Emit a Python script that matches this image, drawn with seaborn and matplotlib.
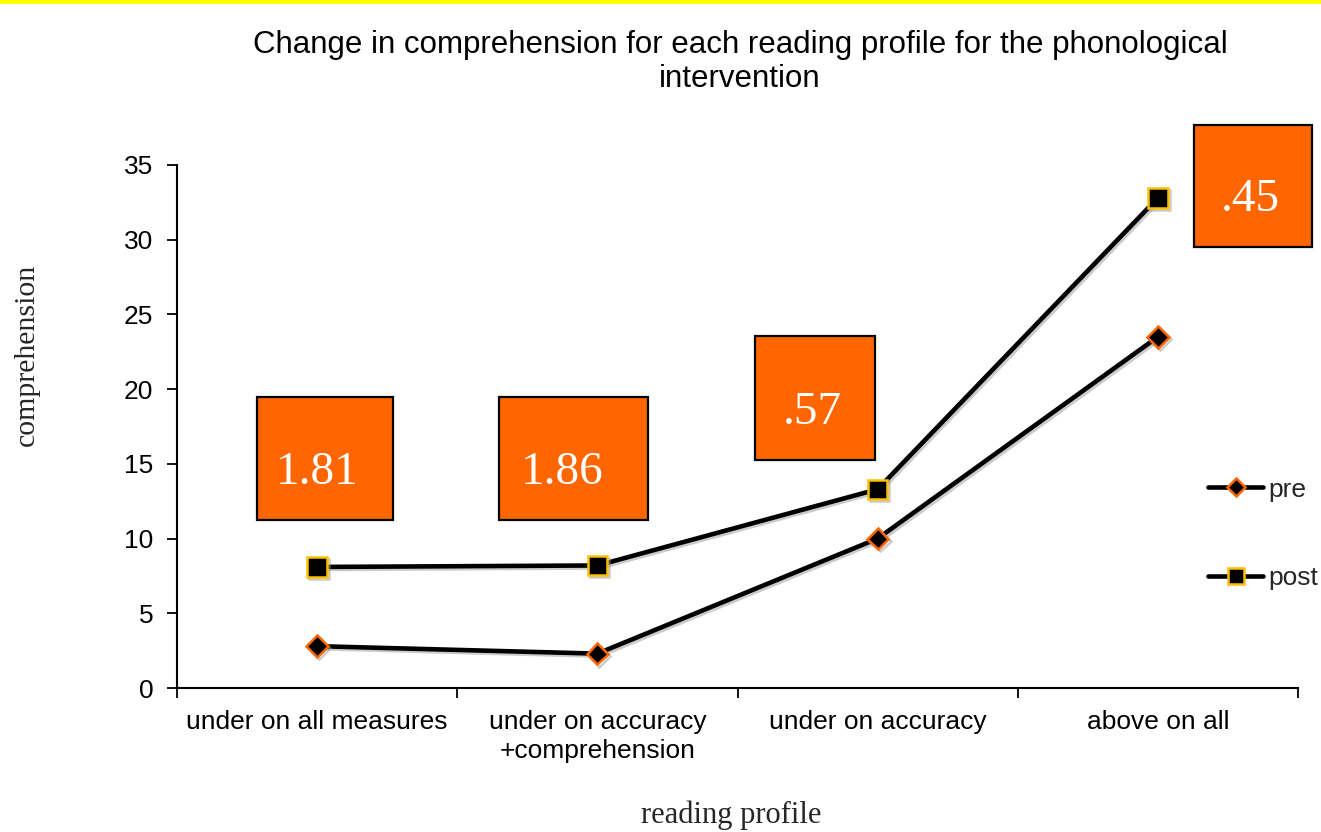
import matplotlib
matplotlib.use("Agg")
import matplotlib.pyplot as plt
import matplotlib.patheffects as pe
from matplotlib.patches import Rectangle
from matplotlib.lines import Line2D
import numpy as np
import pandas as pd
import seaborn as sns

# Reading profiles and mean comprehension scores
profiles = ["under on all measures", "under on accuracy\n+comprehension",
            "under on accuracy", "above on all"]
pre_scores = [2.8, 2.3, 10.0, 23.5]
post_scores = [8.1, 8.2, 13.3, 32.8]
# Effect sizes shown in the callout boxes
effect_labels = ["1.81", "1.86", ".57", ".45"]
y_ticks = [0, 5, 10, 15, 20, 25, 30, 35]

sns.set_theme(style="ticks")
plt.rcParams["font.family"] = ["Liberation Sans", "DejaVu Sans"]

df = pd.DataFrame({
    "profile": profiles * 2,
    "x": list(range(len(profiles))) * 2,
    "score": pre_scores + post_scores,
    "phase": ["pre"] * len(profiles) + ["post"] * len(profiles),
})

fig = plt.figure(figsize=(13.21, 8.32), dpi=100)
ax = fig.add_axes([177 / 1321, 1 - 688 / 832, (1298 - 177) / 1321, (688 - 165) / 832])

shadow = [pe.SimpleLineShadow(offset=(1.5, -1.5), shadow_color="0.6", alpha=0.5), pe.Normal()]

sns.lineplot(data=df, x="x", y="score", hue="phase", style="phase",
             palette={"pre": "black", "post": "black"},
             markers={"pre": "D", "post": "s"}, dashes=False,
             linewidth=3.3, ax=ax, legend=False, zorder=3)

edge = {"pre": "#FF6600", "post": "#FFC000"}
msize = {"pre": 11, "post": 14}
lines = ax.get_lines()
for ln, phase in zip(lines, ["pre", "post"]):
    ln.set_markerfacecolor("black")
    ln.set_markeredgecolor(edge[phase])
    ln.set_markeredgewidth(1.8)
    ln.set_markersize(msize[phase])
    ln.set_path_effects(shadow)

ax.set_xlim(-0.5, 3.5)
ax.set_ylim(0, 35)
ax.set_yticks(y_ticks)
ax.set_xticks(range(len(profiles)))
ax.set_xticklabels(profiles, fontsize=19, linespacing=1.25)
ax.set_xticks(np.arange(-0.5, 3.6, 1.0), minor=True)
ax.tick_params(axis="x", which="major", length=0, pad=16)
ax.tick_params(axis="x", which="minor", length=7, width=1.3, direction="out", color="black")
ax.tick_params(axis="y", length=7, width=1.3, direction="out", labelsize=19, pad=10, color="black")
ax.tick_params(colors="black")
for s in ["top", "right"]:
    ax.spines[s].set_visible(False)
for s in ["left", "bottom"]:
    ax.spines[s].set_linewidth(1.5)
    ax.spines[s].set_color("black")
ax.set_xlabel("")
ax.set_ylabel("")

# Axis titles
fig.text(27 / 1321, 1 - 355 / 832, "comprehension", rotation=90, ha="center", va="center",
         fontsize=21.5, family=["Liberation Serif", "DejaVu Serif"])
fig.text(731 / 1321, 1 - 815 / 832, "reading profile", ha="center", va="center",
         fontsize=22, family=["Liberation Serif", "DejaVu Serif"])

# Title
fig.text(740 / 1321, 1 - 62 / 832,
         "Change in comprehension for each reading profile for the phonological\nintervention",
         ha="center", va="center", fontsize=22.5, linespacing=1.17, color="black")

# Effect-size callouts (data coordinates)
boxes = [(-0.215, 11.24, 0.485, 8.24), (0.649, 11.24, 0.532, 8.24),
         (1.562, 15.26, 0.428, 8.30), (3.129, 29.52, 0.421, 8.16)]
text_pos = [(0.0, 14.4), (0.874, 14.4), (1.766, 18.4), (3.329, 32.7)]
for (bx, by, bw, bh), (tx, ty), lab in zip(boxes, text_pos, effect_labels):
    ax.add_patch(Rectangle((bx, by), bw, bh, facecolor="#FF6600", edgecolor="black",
                           linewidth=1.6, clip_on=False, zorder=4))
    ax.text(tx, ty, lab, ha="center", va="center", color="white", fontsize=34,
            family=["Liberation Serif", "DejaVu Serif"], zorder=5, clip_on=False)

# Legend
handles = [
    Line2D([0], [0], color="black", lw=3.3, marker="D", markersize=9,
           markerfacecolor="black", markeredgecolor="#FF6600", markeredgewidth=1.8),
    Line2D([0], [0], color="black", lw=3.3, marker="s", markersize=12,
           markerfacecolor="black", markeredgecolor="#FFC000", markeredgewidth=1.8),
]
fig.legend(handles, ["pre", "post"], loc="center left",
           bbox_to_anchor=(1208 / 1321, 1 - 534 / 832), frameon=False,
           fontsize=19, handlelength=2.1, handletextpad=0.2, labelspacing=2.45,
           borderpad=0, borderaxespad=0)

# Accent band along the top edge
fig.patches.append(Rectangle((0, 1 - 4 / 832), 1, 4 / 832, transform=fig.transFigure,
                             facecolor="#FFFF00", edgecolor="none", zorder=10))

fig.savefig("out.png", dpi=100, facecolor="white")
